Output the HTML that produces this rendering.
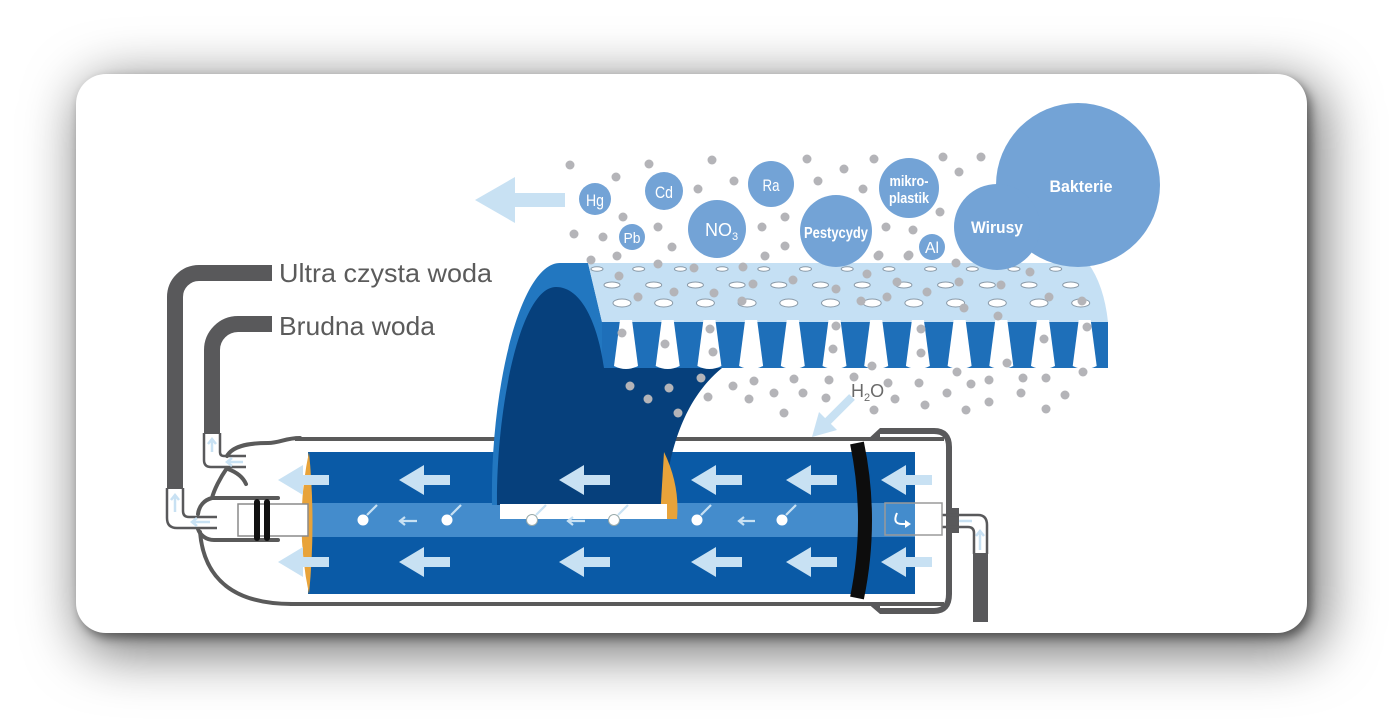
<!DOCTYPE html>
<html><head><meta charset="utf-8">
<style>
html,body{margin:0;padding:0;background:#fff;}
body{width:1392px;height:720px;position:relative;overflow:hidden;}
.card{position:absolute;left:76px;top:74px;width:1231px;height:559px;border-radius:30px;background:#fff;
box-shadow:4px 5px 10px rgba(0,0,0,0.45),10px 14px 55px 6px rgba(0,0,0,0.55);}
svg{position:absolute;left:0;top:0;}
</style></head><body>
<div class="card"></div>
<svg width="1392" height="720" viewBox="0 0 1392 720" xmlns="http://www.w3.org/2000/svg">
<defs>
<polygon id="ar" points="0,0 25,-15 25,-5 51,-5 51,5 25,5 25,15" fill="#c8e1f3"/>
<path id="gap" d="M-6,320 L6,320 L12,366 Q0,372 -12,366 Z" fill="#fff"/>
</defs>

<!-- dark pipes -->
<path d="M175,489 L175,297 A24,24 0 0 1 199,273 L272,273" fill="none" stroke="#59595b" stroke-width="16"/>
<path d="M212,434 L212,350 A26,26 0 0 1 238,324 L272,324" fill="none" stroke="#59595b" stroke-width="16"/>

<!-- outlined pipe ends -->
<path d="M167,488 L167,518 Q167,528 177,528 L217,528 M183,488 L183,511 Q183,517 189,517 L217,517" fill="none" stroke="#59595b" stroke-width="2.5"/>
<path d="M204,433 L204,460 Q204,467 211,467 L246,467 M220,433 L220,452 Q220,456 224,456 L246,456" fill="none" stroke="#59595b" stroke-width="2.5"/>
<!-- small pipe arrows -->
<g stroke="#c8e1f3" stroke-width="2.5" fill="none">
<path d="M175,512 L175,496 M171,500 L175,495 L179,500"/>
<path d="M212,452 L212,440 M208,444 L212,439 L216,444"/>
<path d="M243,462 L228,462 M232,458 L227,462 L232,466"/>
<path d="M210,522 L193,522 M197,518 L192,522 L197,526"/>
<path d="M972,521 L952,521 M956,517 L951,521 L956,525"/>
<path d="M980,550 L980,532 M976,536 L980,531 L984,536"/>
</g>

<!-- left housing -->
<g fill="none" stroke="#5a5a5a" stroke-width="4" stroke-linecap="round">
<path d="M300,438 C285,438 280,443 268,443 C245,443 232,447 227,456"/>
<path d="M227,468 C220,478 214,490 212,498 C204,500 199,506 198,514"/>
<path d="M228,469 C236,472 243,477 246,484"/>
<path d="M212,498 L278,498"/>
<path d="M198,529 C200,535 206,540 214,540 L278,540"/>
<path d="M200,532 C204,580 235,604 292,604"/>
</g>
<!-- housing lines -->
<line x1="295" y1="439" x2="944" y2="439" stroke="#5a5a5a" stroke-width="4"/>
<line x1="290" y1="604" x2="944" y2="604" stroke="#5a5a5a" stroke-width="4"/>

<!-- right cap -->
<path d="M880,431 L934,431 Q949,431 949,447 L949,594 Q949,611 934,611 L880,611" fill="none" stroke="#59595b" stroke-width="6"/>
<polygon points="866,441 880,428 880,441" fill="#59595b"/>
<polygon points="866,602 880,614 880,602" fill="#59595b"/>
<rect x="950" y="508" width="9" height="25" fill="#59595b"/>
<!-- right pipe -->
<path d="M942,515 L978,515 Q987,515 987,525 L987,554 M942,527 L968,527 Q974,527 974,533 L974,554" fill="none" stroke="#59595b" stroke-width="2.5"/>
<rect x="973" y="553" width="15" height="69" fill="#59595b"/>

<!-- inner cylinder -->
<rect x="308" y="452" width="607" height="142" fill="#0a5aa6"/>
<rect x="308" y="503" width="607" height="34" fill="#448ccc"/>
<path d="M309,452 Q294,523 309,594 Q316,523 309,452 Z" fill="#e8a33a"/>

<!-- left fitting -->
<rect x="238" y="504" width="70" height="32" fill="#fff" stroke="#8a8a8a" stroke-width="1.5"/>
<rect x="254" y="499" width="6" height="42" rx="3" fill="#111"/>
<rect x="264" y="499" width="6" height="42" rx="3" fill="#111"/>

<!-- seal -->
<path d="M857,443 Q873,520 857,598" fill="none" stroke="#0d0d0d" stroke-width="14"/>
<!-- right tube -->
<rect x="885" y="503" width="57" height="32" fill="none" stroke="#9a9a9a" stroke-width="1.5"/>
<rect x="915" y="504" width="26" height="30" fill="#fff"/>
<path d="M897,513 Q892,524 902,524 L907,524" fill="none" stroke="#fff" stroke-width="2"/>
<polygon points="911,524 905,520 905,528" fill="#fff"/>

<!-- cylinder arrows -->
<use href="#ar" x="278" y="480"/><use href="#ar" x="278" y="562"/>
<use href="#ar" x="399" y="480"/><use href="#ar" x="399" y="562"/>
<use href="#ar" x="691" y="480"/><use href="#ar" x="691" y="562"/>
<use href="#ar" x="786" y="480"/><use href="#ar" x="786" y="562"/>
<use href="#ar" x="881" y="480"/><use href="#ar" x="881" y="562"/>
<use href="#ar" x="559" y="562"/>

<!-- membrane arch -->
<path d="M492,505 C490,390 520,263 560,263 L588,263 L602,322 L604,368 L660,505 Z" fill="#2277c0"/>
<path d="M588,263 L1088,263 Q1104,285 1108,322 L602,322 Z" fill="#c5e0f4"/>
<rect x="602" y="322" width="506" height="46" fill="#1e6fb9"/>
<!-- navy -->
<path d="M497,505 C496,410 520,287 556,287 C582,287 598,325 604,368 L722,368 C695,390 670,430 664,505 Z" fill="#06407c"/>
<g>
<use href="#gap" x="626"/><use href="#gap" x="667.7"/><use href="#gap" x="709.4"/><use href="#gap" x="751.1"/>
<use href="#gap" x="792.8"/><use href="#gap" x="834.5"/><use href="#gap" x="876.2"/><use href="#gap" x="917.9"/>
<use href="#gap" x="959.6"/><use href="#gap" x="1001.3"/><use href="#gap" x="1043"/><use href="#gap" x="1084.7"/>
</g>
<path d="M664,452 Q680,485 677,519 L660,519 Q662,485 664,452 Z" fill="#e8a33a"/>
<rect x="500" y="504" width="167" height="15" fill="#fff"/>
<use href="#ar" x="559" y="480"/>

<!-- holes -->
<g fill="#fff" stroke="#8a9aa8" stroke-width="1">
<ellipse cx="597" cy="269" rx="6" ry="2.2"/><ellipse cx="638.7" cy="269" rx="6" ry="2.2"/><ellipse cx="680.4" cy="269" rx="6" ry="2.2"/><ellipse cx="722.1" cy="269" rx="6" ry="2.2"/><ellipse cx="763.8" cy="269" rx="6" ry="2.2"/><ellipse cx="805.5" cy="269" rx="6" ry="2.2"/><ellipse cx="847.2" cy="269" rx="6" ry="2.2"/><ellipse cx="888.9" cy="269" rx="6" ry="2.2"/><ellipse cx="930.6" cy="269" rx="6" ry="2.2"/><ellipse cx="972.3" cy="269" rx="6" ry="2.2"/><ellipse cx="1014" cy="269" rx="6" ry="2.2"/><ellipse cx="1055.7" cy="269" rx="6" ry="2.2"/>
<ellipse cx="612" cy="285" rx="8" ry="3"/><ellipse cx="653.7" cy="285" rx="8" ry="3"/><ellipse cx="695.4" cy="285" rx="8" ry="3"/><ellipse cx="737.1" cy="285" rx="8" ry="3"/><ellipse cx="778.8" cy="285" rx="8" ry="3"/><ellipse cx="820.5" cy="285" rx="8" ry="3"/><ellipse cx="862.2" cy="285" rx="8" ry="3"/><ellipse cx="903.9" cy="285" rx="8" ry="3"/><ellipse cx="945.6" cy="285" rx="8" ry="3"/><ellipse cx="987.3" cy="285" rx="8" ry="3"/><ellipse cx="1029" cy="285" rx="8" ry="3"/><ellipse cx="1070.7" cy="285" rx="8" ry="3"/>
<ellipse cx="622" cy="303" rx="9" ry="4"/><ellipse cx="663.7" cy="303" rx="9" ry="4"/><ellipse cx="705.4" cy="303" rx="9" ry="4"/><ellipse cx="747.1" cy="303" rx="9" ry="4"/><ellipse cx="788.8" cy="303" rx="9" ry="4"/><ellipse cx="830.5" cy="303" rx="9" ry="4"/><ellipse cx="872.2" cy="303" rx="9" ry="4"/><ellipse cx="913.9" cy="303" rx="9" ry="4"/><ellipse cx="955.6" cy="303" rx="9" ry="4"/><ellipse cx="997.3" cy="303" rx="9" ry="4"/><ellipse cx="1039" cy="303" rx="9" ry="4"/><ellipse cx="1080.7" cy="303" rx="9" ry="4"/>
</g>

<!-- band circles & small arrows -->
<g stroke="#c8e1f3" stroke-width="2.2" fill="none">
<path d="M377,505 L367,515"/><path d="M461,505 L451,515"/><path d="M546,505 L536,515"/><path d="M628,505 L618,515"/><path d="M711,505 L701,515"/><path d="M796,505 L786,515"/>
<path d="M417,521 L401,521 M405,517 L400,521 L405,525"/>
<path d="M755,521 L740,521 M744,517 L739,521 L744,525"/>
<path d="M585,521 L569,521 M573,517 L568,521 L573,525"/>
</g>
<g fill="#fff">
<circle cx="363" cy="520" r="5.5"/><circle cx="447" cy="520" r="5.5"/>
<circle cx="532" cy="520" r="5.5" stroke="#9aa" stroke-width="1"/><circle cx="614" cy="520" r="5.5" stroke="#9aa" stroke-width="1"/>
<circle cx="697" cy="520" r="5.5"/><circle cx="782" cy="520" r="5.5"/>
</g>

<!-- H2O arrow -->
<line x1="852" y1="397" x2="826" y2="423" stroke="#c8e1f3" stroke-width="8"/>
<polygon points="812,437 819,412 837,430" fill="#c8e1f3"/>
<text x="851" y="397" font-family="Liberation Sans Narrow, Liberation Sans, sans-serif" font-size="18" fill="#6a6a6a">H<tspan font-size="11" dy="4">2</tspan><tspan dy="-4">O</tspan></text>

<!-- top big arrow -->
<polygon points="475,200 515,177 515,193 565,193 565,207 515,207 515,223" fill="#c8e1f3"/>

<!-- dots -->
<g fill="#b4b4b8">
<circle cx="570" cy="165" r="4.5"/><circle cx="616" cy="177" r="4.5"/><circle cx="649" cy="164" r="4.5"/><circle cx="712" cy="160" r="4.5"/><circle cx="734" cy="181" r="4.5"/><circle cx="698" cy="189" r="4.5"/><circle cx="807" cy="159" r="4.5"/><circle cx="844" cy="169" r="4.5"/><circle cx="818" cy="181" r="4.5"/><circle cx="863" cy="189" r="4.5"/><circle cx="874" cy="159" r="4.5"/><circle cx="623" cy="217" r="4.5"/><circle cx="574" cy="234" r="4.5"/><circle cx="603" cy="237" r="4.5"/><circle cx="658" cy="227" r="4.5"/><circle cx="672" cy="247" r="4.5"/><circle cx="785" cy="217" r="4.5"/><circle cx="762" cy="227" r="4.5"/><circle cx="785" cy="246" r="4.5"/><circle cx="765" cy="256" r="4.5"/><circle cx="591" cy="260" r="4.5"/><circle cx="617" cy="256" r="4.5"/><circle cx="658" cy="264" r="4.5"/><circle cx="694" cy="268" r="4.5"/><circle cx="743" cy="267" r="4.5"/><circle cx="878" cy="256" r="4.5"/><circle cx="867" cy="274" r="4.5"/><circle cx="619" cy="276" r="4.5"/>
<circle cx="943" cy="157" r="4.5"/><circle cx="981" cy="157" r="4.5"/><circle cx="959" cy="172" r="4.5"/><circle cx="940" cy="212" r="4.5"/><circle cx="886" cy="227" r="4.5"/><circle cx="913" cy="230" r="4.5"/><circle cx="879" cy="255" r="4.5"/><circle cx="909" cy="255" r="4.5"/><circle cx="956" cy="263" r="4.5"/><circle cx="1030" cy="272" r="4.5"/>
<circle cx="638" cy="297" r="4.5"/><circle cx="674" cy="292" r="4.5"/><circle cx="714" cy="293" r="4.5"/><circle cx="753" cy="284" r="4.5"/><circle cx="793" cy="280" r="4.5"/><circle cx="742" cy="301" r="4.5"/>
<circle cx="622" cy="333" r="4.5"/><circle cx="665" cy="344" r="4.5"/><circle cx="710" cy="329" r="4.5"/><circle cx="713" cy="352" r="4.5"/>
<circle cx="630" cy="386" r="4.5"/><circle cx="648" cy="399" r="4.5"/><circle cx="669" cy="388" r="4.5"/><circle cx="701" cy="378" r="4.5"/><circle cx="678" cy="413" r="4.5"/><circle cx="708" cy="397" r="4.5"/><circle cx="733" cy="386" r="4.5"/><circle cx="754" cy="381" r="4.5"/><circle cx="749" cy="399" r="4.5"/><circle cx="774" cy="393" r="4.5"/><circle cx="794" cy="379" r="4.5"/><circle cx="803" cy="393" r="4.5"/><circle cx="784" cy="413" r="4.5"/>
<circle cx="908" cy="256" r="4.5"/><circle cx="836" cy="289" r="4.5"/><circle cx="897" cy="282" r="4.5"/><circle cx="959" cy="282" r="4.5"/><circle cx="1001" cy="285" r="4.5"/><circle cx="887" cy="297" r="4.5"/><circle cx="927" cy="292" r="4.5"/><circle cx="861" cy="301" r="4.5"/><circle cx="964" cy="308" r="4.5"/><circle cx="1049" cy="297" r="4.5"/><circle cx="1082" cy="301" r="4.5"/><circle cx="998" cy="316" r="4.5"/>
<circle cx="836" cy="326" r="4.5"/><circle cx="921" cy="329" r="4.5"/><circle cx="1087" cy="327" r="4.5"/><circle cx="833" cy="349" r="4.5"/><circle cx="921" cy="353" r="4.5"/><circle cx="1044" cy="339" r="4.5"/><circle cx="872" cy="366" r="4.5"/><circle cx="1007" cy="363" r="4.5"/>
<circle cx="957" cy="372" r="4.5"/><circle cx="1083" cy="372" r="4.5"/><circle cx="829" cy="380" r="4.5"/><circle cx="854" cy="377" r="4.5"/><circle cx="888" cy="383" r="4.5"/><circle cx="919" cy="383" r="4.5"/><circle cx="971" cy="384" r="4.5"/><circle cx="989" cy="380" r="4.5"/><circle cx="1023" cy="378" r="4.5"/><circle cx="1046" cy="378" r="4.5"/><circle cx="826" cy="398" r="4.5"/><circle cx="895" cy="399" r="4.5"/><circle cx="947" cy="393" r="4.5"/><circle cx="1021" cy="393" r="4.5"/><circle cx="1065" cy="395" r="4.5"/><circle cx="874" cy="410" r="4.5"/><circle cx="925" cy="405" r="4.5"/><circle cx="966" cy="410" r="4.5"/><circle cx="989" cy="402" r="4.5"/><circle cx="1046" cy="409" r="4.5"/>
</g>

<!-- bubbles -->
<g fill="#73a3d6">
<circle cx="1078" cy="185" r="82"/><circle cx="997" cy="227" r="43"/>
<circle cx="595" cy="199" r="16"/><circle cx="664" cy="191" r="19"/><circle cx="632" cy="237" r="13"/>
<circle cx="717" cy="229" r="29"/><circle cx="771" cy="184" r="23"/><circle cx="836" cy="231" r="36"/>
<circle cx="909" cy="188" r="30"/><circle cx="932" cy="247" r="13"/>
</g>
<g font-family="Liberation Sans Narrow, Liberation Sans, sans-serif" fill="#fff" text-anchor="middle">
<text x="595" y="206" font-size="17" textLength="18" lengthAdjust="spacingAndGlyphs">Hg</text>
<text x="664" y="198" font-size="17" textLength="18" lengthAdjust="spacingAndGlyphs">Cd</text>
<text x="632" y="243" font-size="15" textLength="17" lengthAdjust="spacingAndGlyphs">Pb</text>
<text x="771" y="191" font-size="17" textLength="17" lengthAdjust="spacingAndGlyphs">Ra</text>
<text x="932" y="253" font-size="16" textLength="14" lengthAdjust="spacingAndGlyphs">Al</text>
<text x="836" y="238" font-size="16" font-weight="bold" textLength="64" lengthAdjust="spacingAndGlyphs">Pestycydy</text>
<text x="909" y="186" font-size="15" font-weight="bold" textLength="39" lengthAdjust="spacingAndGlyphs">mikro-</text>
<text x="909" y="203" font-size="15" font-weight="bold" textLength="40" lengthAdjust="spacingAndGlyphs">plastik</text>
<text x="997" y="233" font-size="17" font-weight="bold" textLength="52" lengthAdjust="spacingAndGlyphs">Wirusy</text>
<text x="1081" y="192" font-size="17" font-weight="bold" textLength="63" lengthAdjust="spacingAndGlyphs">Bakterie</text>
</g>
<text x="705" y="236" font-family="Liberation Sans Narrow, Liberation Sans, sans-serif" font-size="18" fill="#fff">NO<tspan font-size="11" dy="4">3</tspan></text>

<!-- labels -->
<text x="279" y="282" font-family="Liberation Sans, sans-serif" font-size="26" fill="#5b5b5b" textLength="213" lengthAdjust="spacingAndGlyphs">Ultra czysta woda</text>
<text x="279" y="335" font-family="Liberation Sans, sans-serif" font-size="26" fill="#5b5b5b" textLength="156" lengthAdjust="spacingAndGlyphs">Brudna woda</text>
</svg>
</body></html>
